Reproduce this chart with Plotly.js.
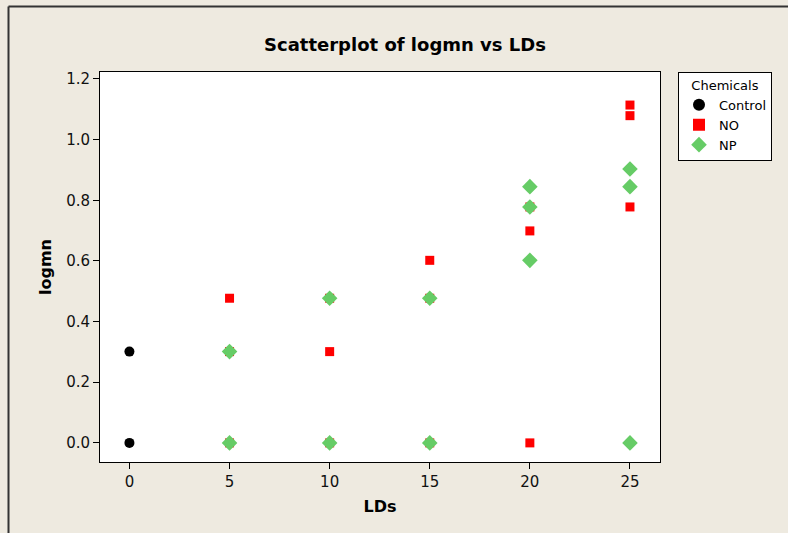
<!DOCTYPE html>
<html>
<head>
<meta charset="utf-8">
<script src="https://cdn.plot.ly/plotly-3.0.1.min.js"></script>
<style>html,body{margin:0;padding:0;background:#EEEAE0;}#chart{width:788px;height:533px;}</style>
</head>
<body>
<div id="chart"></div>
<script>
// Data
const controlLDs = [0, 0];
const controlLogmn = [0.0, 0.301];

const noLDs = [5, 5, 5, 10, 10, 10, 15, 15, 15, 20, 20, 20, 25, 25, 25];
const noLogmn = [0.0, 0.301, 0.477, 0.0, 0.301, 0.477, 0.0, 0.477, 0.602, 0.0, 0.699, 0.778, 0.778, 1.079, 1.114];

const npLDs = [5, 5, 10, 10, 15, 15, 20, 20, 20, 25, 25, 25];
const npLogmn = [0.0, 0.301, 0.0, 0.477, 0.0, 0.477, 0.602, 0.778, 0.845, 0.0, 0.845, 0.903];

const xTicks = [0, 5, 10, 15, 20, 25];
const yTicks = [0.0, 0.2, 0.4, 0.6, 0.8, 1.0, 1.2];
const yTickText = ['0.0', '0.2', '0.4', '0.6', '0.8', '1.0', '1.2'];

const FONT = 'DejaVu Sans, Verdana, sans-serif';

const traces = [
  {x: controlLDs, y: controlLogmn, name: 'Control', type: 'scatter', mode: 'markers',
   marker: {symbol: 'circle', size: 10, color: '#000000'}},
  {x: noLDs, y: noLogmn, name: 'NO', type: 'scatter', mode: 'markers',
   marker: {symbol: 'square', size: 9, color: '#FF0000'}},
  {x: npLDs, y: npLogmn, name: 'NP', type: 'scatter', mode: 'markers',
   marker: {symbol: 'diamond', size: 12, color: '#66CC66'}}
];

const W = 560, H = 390.5;
const px2x = p => (p - 100) / W;
const py2y = p => (462.5 - p) / H;

const layout = {
  width: 788, height: 533,
  paper_bgcolor: '#EEEAE0',
  plot_bgcolor: '#FFFFFF',
  margin: {l: 100, r: 128, t: 72, b: 70.5, pad: 0},
  title: {text: '<b>Scatterplot of logmn vs LDs</b>', x: px2x(405), xref: 'paper', xanchor: 'center',
          y: 1 - 45/533, yanchor: 'middle',
          font: {family: FONT, size: 18, color: '#000'}},
  font: {family: FONT, size: 15, color: '#000'},
  xaxis: {
    range: [-1.47, 26.5], tickvals: xTicks, ticktext: xTicks.map(String),
    showgrid: false, zeroline: false, showline: true, mirror: true, linecolor: '#000', linewidth: 1,
    ticks: 'outside', ticklen: 6, tickcolor: '#000', tickwidth: 1,
    tickfont: {family: FONT, size: 15, color: '#111'},
    title: {text: '<b>LDs</b>', standoff: 10, font: {family: FONT, size: 16, color: '#000'}}
  },
  yaxis: {
    range: [-0.063, 1.223], tickvals: yTicks, ticktext: yTickText,
    showgrid: false, zeroline: false, showline: true, mirror: true, linecolor: '#000', linewidth: 1,
    ticks: 'outside', ticklen: 6, tickcolor: '#000', tickwidth: 1,
    tickfont: {family: FONT, size: 15, color: '#111'},
    title: {text: '<b>logmn</b>', standoff: 10, font: {family: FONT, size: 16, color: '#000'}}
  },
  showlegend: true,
  legend: {
    x: px2x(678), y: 1, xanchor: 'left', yanchor: 'top',
    bgcolor: '#FFFFFF', bordercolor: '#000', borderwidth: 1,
    font: {family: FONT, size: 13, color: '#000'},
    title: {text: 'Chemicals', side: 'top center', font: {family: FONT, size: 13, color: '#000'}},
    itemsizing: 'constant', tracegroupgap: 0, itemwidth: 30
  },
  shapes: [
    {type: 'line', xref: 'paper', yref: 'paper', x0: px2x(8.5), x1: px2x(8.5), y0: py2y(540), y1: py2y(6.5),
     line: {color: '#333', width: 2}},
    {type: 'line', xref: 'paper', yref: 'paper', x0: px2x(8.5), x1: px2x(795), y0: py2y(6.5), y1: py2y(6.5),
     line: {color: '#333', width: 2}}
  ]
};

Plotly.newPlot('chart', traces, layout, {displayModeBar: false, staticPlot: true});
</script>
</body>
</html>
